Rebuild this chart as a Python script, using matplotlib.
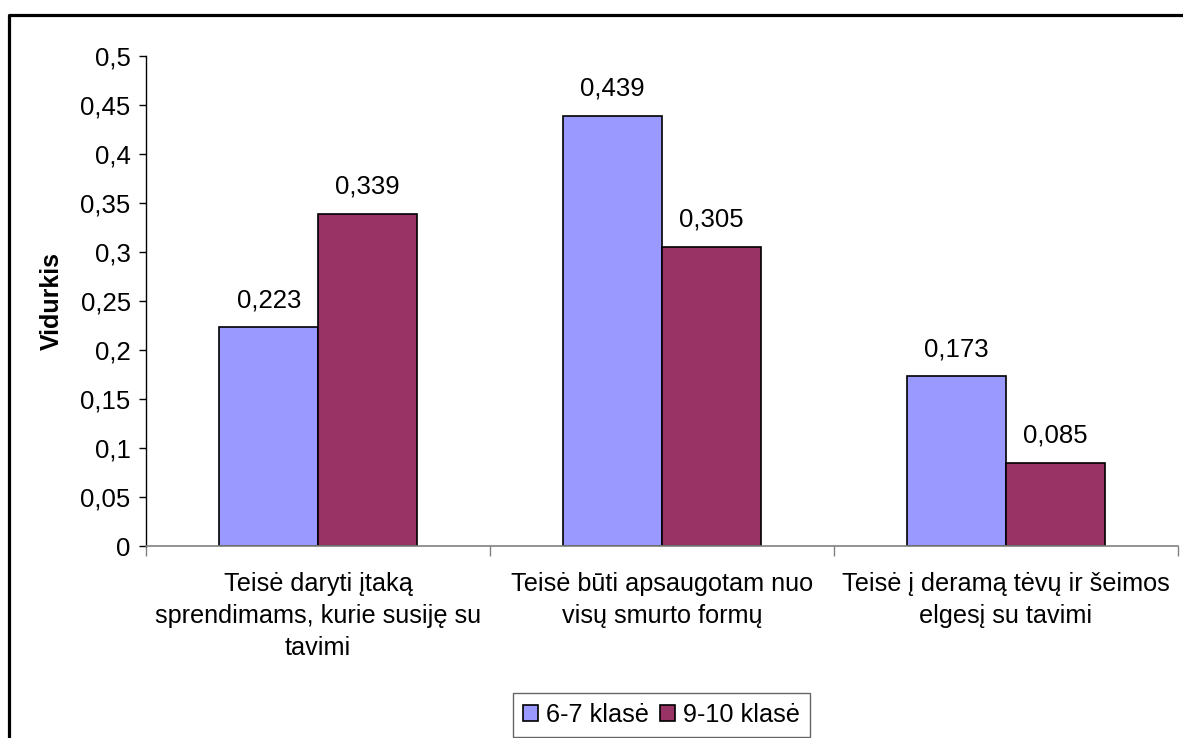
import numpy as np
import matplotlib
matplotlib.use('Agg')
from matplotlib import pyplot as plt
from matplotlib.ticker import FuncFormatter, MultipleLocator
from matplotlib.lines import Line2D

# duomenys
kategorijos = ['Teisė daryti įtaką\nsprendimams, kurie susiję su\ntavimi',
               'Teisė būti apsaugotam nuo\nvisų smurto formų',
               'Teisė į deramą tėvų ir šeimos\nelgesį su tavimi']
klase_6_7 = [0.223, 0.439, 0.173]
klase_9_10 = [0.339, 0.305, 0.085]
serijos = ['6-7 klasė', '9-10 klasė']

plt.rcParams['font.family'] = ['Liberation Sans', 'DejaVu Sans']

fig = plt.figure(figsize=(11.83, 7.38), dpi=100)
ax = fig.add_axes([146/1183, 1-546/738, (1178-146)/1183, (546-56)/738])

x = np.arange(len(kategorijos))
w = 0.2865
b1 = ax.bar(x - w/2, klase_6_7, w, color='#9999FF', edgecolor='black', linewidth=1.2, label=serijos[0])
b2 = ax.bar(x + w/2, klase_9_10, w, color='#993366', edgecolor='black', linewidth=1.2, label=serijos[1])

for barras in (b1, b2):
    for r in barras:
        v = r.get_height()
        ax.annotate(('%g' % v).replace('.', ','), (r.get_x() + r.get_width()/2, v),
                    xytext=(0, 11), textcoords='offset points', ha='center', va='bottom', fontsize=18.5)

ax.set_xlim(-0.5, 2.5)
ax.set_ylim(0, 0.5)
ax.yaxis.set_major_locator(MultipleLocator(0.05))
ax.yaxis.set_major_formatter(FuncFormatter(lambda v, p: ('%g' % round(v, 2)).replace('.', ',')))
ax.tick_params(axis='y', labelsize=18.5, length=5, width=1, pad=6)

ax.set_xticks(x)
ax.set_xticklabels(kategorijos, fontsize=18.2, linespacing=1.42)
ax.set_xticks([-0.5, 0.5, 1.5, 2.5], minor=True)
ax.tick_params(axis='x', which='major', length=0, pad=19)
ax.tick_params(axis='x', which='minor', length=7, width=1, color='#808080')

ax.spines['top'].set_visible(False)
ax.spines['right'].set_visible(False)
ax.spines['bottom'].set_color('#808080')
ax.spines['bottom'].set_linewidth(1.2)
ax.spines['left'].set_linewidth(1)

ax.set_ylabel('Vidurkis', fontsize=18, fontweight='bold', labelpad=12)

leg = fig.legend(loc='upper center', bbox_to_anchor=(661.5/1183, 1-693/738), ncol=2,
                 fontsize=18.2, frameon=True, fancybox=False, edgecolor='#404040',
                 handlelength=0.6, handleheight=0.6, handletextpad=0.3, columnspacing=0.45,
                 borderpad=0.4, borderaxespad=0)
leg.get_frame().set_linewidth(1)

# marco exterior
fig.add_artist(Line2D([9/1183, 9/1183, 1.0], [0, 1-15/738, 1-15/738], transform=fig.transFigure,
                      color='black', linewidth=2.3))

fig.savefig('out.png', dpi=100)
